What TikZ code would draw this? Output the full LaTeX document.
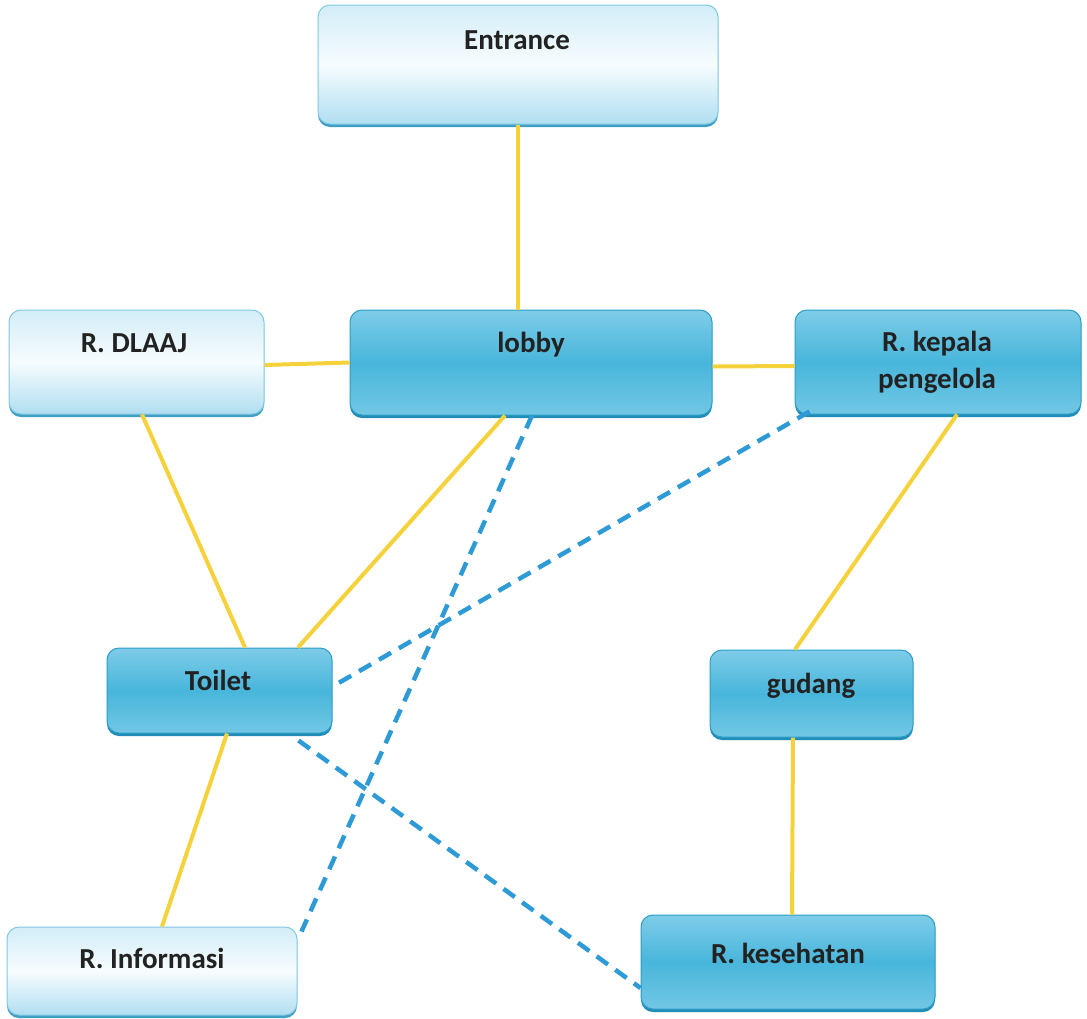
\documentclass[tikz,border=0pt]{standalone}
\usepackage{fontspec}
\setmainfont{Carlito}
\usetikzlibrary{shadows}

\definecolor{linkyellow}{HTML}{F5D23C}
\definecolor{linkblue}{HTML}{2E9BD6}
\definecolor{edgeblue}{HTML}{2A9DC6}
\definecolor{shadeblue}{HTML}{1F8DB8}
\definecolor{txtgray}{HTML}{222222}
\definecolor{bluetop}{HTML}{7ECCE8}
\definecolor{bluemid}{HTML}{48B6DB}
\definecolor{bluebot}{HTML}{72C7E4}
\definecolor{lighttop}{HTML}{D3EDF8}
\definecolor{lightmid}{HTML}{F7FCFE}
\definecolor{lightbot}{HTML}{B0DEF1}
\definecolor{lightedge}{HTML}{7FC8E3}

\tikzset{
  roombox/.style={rectangle, rounded corners=12pt, inner sep=0pt, line width=1pt},
  bluebox/.style={roombox, draw=edgeblue,
    top color=bluetop, bottom color=bluebot, middle color=bluemid,
    general shadow={fill=shadeblue, shadow yshift=-3pt}},
  lightbox/.style={roombox, draw=lightedge,
    top color=lighttop, bottom color=lightbot, middle color=lightmid,
    general shadow={fill=shadeblue!85, shadow yshift=-3pt}},
  lbl/.style={font=\fontsize{29}{37}\selectfont\bfseries, text=txtgray, inner sep=0pt, align=center},
  solidlink/.style={draw=linkyellow, line width=4pt},
  dashlink/.style={draw=linkblue, line width=4.5pt, dash pattern=on 14pt off 9pt},
}

\begin{document}
\begin{tikzpicture}[x=1pt, y=-1pt]
\useasboundingbox (0,0) rectangle (1087,1018);

% room boxes
\node[lightbox, minimum width=400pt, minimum height=119pt] (entrance) at (518,64.5) {};
\node[lightbox, minimum width=255pt, minimum height=104pt] (dlaaj) at (136.5,362) {};
\node[bluebox, minimum width=362pt, minimum height=105pt] (lobby) at (531,362.5) {};
\node[bluebox, minimum width=286pt, minimum height=104pt] (kepala) at (938,362) {};
\node[bluebox, minimum width=225pt, minimum height=85pt] (toilet) at (219.5,690.5) {};
\node[bluebox, minimum width=203pt, minimum height=87pt] (gudang) at (811.5,693.5) {};
\node[lightbox, minimum width=290pt, minimum height=88pt] (informasi) at (152,971) {};
\node[bluebox, minimum width=294pt, minimum height=94pt] (kesehatan) at (788,962) {};

% solid links
\path[solidlink] (entrance.south) -- ([xshift=-13pt]lobby.north);
\path[solidlink] ([yshift=-3pt]dlaaj.east) -- (lobby.west);
\path[solidlink] ([yshift=-4pt]lobby.east) -- ([yshift=-4pt]kepala.west);
\path[solidlink] ([xshift=5.5pt]dlaaj.south) -- ([xshift=25.5pt]toilet.north);
\path[solidlink] ([xshift=-26pt]lobby.south) -- ([xshift=78.5pt]toilet.north);
\path[solidlink] ([xshift=19pt]kepala.south) -- ([xshift=-16.5pt]gudang.north);
\path[solidlink] ([xshift=7.5pt]toilet.south) -- ([xshift=10pt]informasi.north);
\path[solidlink] ([xshift=-18.5pt]gudang.south) -- ([xshift=4pt]kesehatan.north);

% dashed links
\path[dashlink] ([xshift=1pt]lobby.south) -- ([xshift=4pt,yshift=-5pt]informasi.north east);
\path[dashlink] ([xshift=15pt,yshift=3pt]kepala.south west) -- ([yshift=4pt]toilet.east);
\path[dashlink] ([xshift=-34pt,yshift=-7pt]toilet.south east) -- ([yshift=-26pt]kesehatan.west);

% labels
\node[lbl, anchor=base] (entranceT) at (517,49) {Entrance};
\node[lbl, anchor=base] (dlaajT) at (134,352) {R. DLAAJ};
\node[lbl, anchor=base] (lobbyT) at (531,352) {lobby};
\node[lbl, anchor=base] (kepalaT) at (937,388) {R. kepala\\pengelola};
\node[lbl, anchor=base] (toiletT) at (218,690) {Toilet};
\node[lbl, anchor=base] (gudangT) at (811,693) {gudang};
\node[lbl, anchor=base] (informasiT) at (152,968) {R. Informasi};
\node[lbl, anchor=base] (kesehatanT) at (788,963) {R. kesehatan};
\end{tikzpicture}
\end{document}
